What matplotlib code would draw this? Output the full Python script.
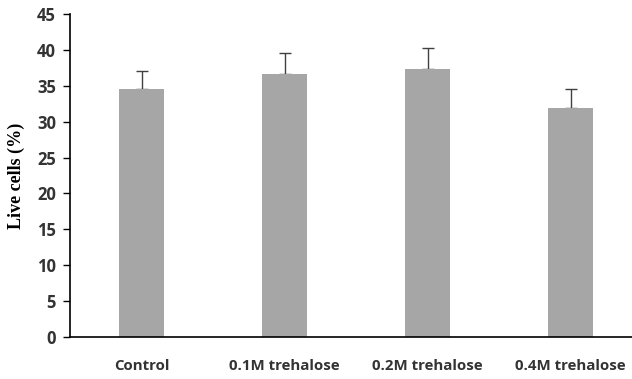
import matplotlib
matplotlib.use("Agg")
import matplotlib.pyplot as plt
import numpy as np

categories = ["Control", "0.1M trehalose", "0.2M trehalose", "0.4M trehalose"]
values = [34.6, 36.6, 37.3, 31.9]
errors = [2.5, 2.9, 2.95, 2.7]
yticks = [0, 5, 10, 15, 20, 25, 30, 35, 40, 45]

fig = plt.figure(figsize=(6.32, 3.79), dpi=100)
ax = fig.add_axes([70/632, 42/379, 1 - 70/632, (337-14)/379])

x = np.arange(len(categories))
ax.bar(x, values, width=0.315, color="#A6A6A6", zorder=2)
ax.errorbar(x, values, yerr=[[0]*len(values), errors], fmt="none",
            ecolor="#404040", elinewidth=1.0, capsize=4, capthick=1.0, zorder=1)

ax.set_xlim(-0.5, 3.43)
ax.set_ylim(0, 45)
ax.set_yticks(yticks)
ax.set_xticks(x)
ax.set_xticklabels(categories, fontfamily="Open Sans", fontweight="bold", fontsize=10.8, color="#333333")
ax.set_yticklabels([str(t) for t in yticks], fontfamily="Open Sans", fontweight="bold", fontsize=12, color="#333333")
ax.tick_params(axis="x", length=0, pad=16)
ax.tick_params(axis="y", length=5, width=1, pad=5, direction="out")
for s in ["top", "right"]:
    ax.spines[s].set_visible(False)
for s in ["left", "bottom"]:
    ax.spines[s].set_linewidth(1.2)
    ax.spines[s].set_color("black")

ax.set_ylabel("Live cells (%)", fontfamily="Liberation Serif", fontweight="bold", fontsize=13, labelpad=9)

fig.savefig("out.png", dpi=100)
